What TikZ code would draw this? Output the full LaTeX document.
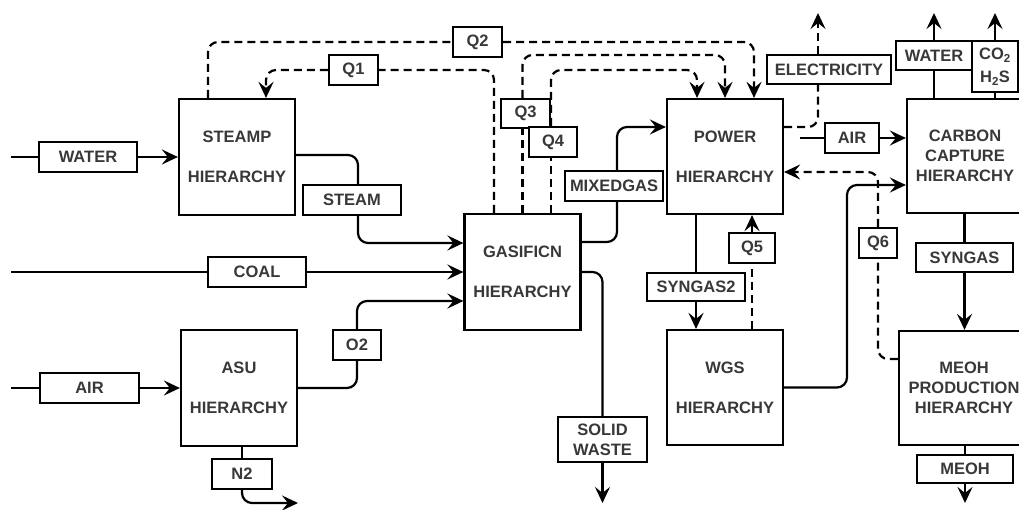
\documentclass[tikz,border=0pt]{standalone}
\usepackage{fontspec}
\setmainfont{Liberation Sans}
\usetikzlibrary{arrows.meta}
\begin{document}
\begin{tikzpicture}[x=1pt,y=-1pt,
  every node/.style={font=\fontsize{16.5}{20}\selectfont\bfseries, text=black!78, inner sep=0pt, align=center},
  unit/.style={draw, line width=2.2pt, minimum width=116pt, minimum height=116pt},
  tag/.style={draw, line width=2.2pt, fill=white, minimum height=30pt},
  flow/.style={line width=2.2pt, rounded corners=10pt},
  dflow/.style={flow, dash pattern=on 8pt off 5pt},
  tip/.style={-{Stealth[length=16pt,width=15pt,inset=6pt]}},
]
\clip (0,0) rectangle (1019,510);

% process units
\node[unit] (steamp) at (237,157) {STEAMP\\[20pt]HIERARCHY};
\node[unit] (gas) at (522.5,272) {GASIFICN\\[20pt]HIERARCHY};
\node[unit,minimum height=115pt] (power) at (725,156.5) {POWER\\[20pt]HIERARCHY};
\node[unit,minimum height=115pt] (wgs) at (725,387.5) {WGS\\[20pt]HIERARCHY};
\node[unit] (asu) at (239,388) {ASU\\[20pt]HIERARCHY};
\node[unit,minimum height=114pt] (cc) at (965,156) {CARBON\\CAPTURE\\HIERARCHY};
\node[unit,minimum width=130pt,minimum height=114pt] (meoh) at (964,388) {MEOH\\PRODUCTION\\HIERARCHY};

% stream tags
\node[tag,minimum width=98pt] (wateri) at (88,157) {WATER};
\node[tag,minimum width=98pt] (steam) at (352,200) {STEAM};
\node[tag,minimum width=98pt] (coal) at (257,272) {COAL};
\node[tag,minimum width=48pt] (o2) at (357,345) {O2};
\node[tag,minimum width=99pt] (airi) at (89.5,388) {AIR};
\node[tag,minimum width=60pt] (n2) at (242,474) {N2};
\node[tag,minimum width=49pt] (q1) at (353.5,70) {Q1};
\node[tag,minimum width=49pt] (q2) at (477.5,42) {Q2};
\node[tag,minimum width=49pt,minimum height=29pt] (q3) at (525.5,113.5) {Q3};
\node[tag,minimum width=48pt] (q4) at (553,142) {Q4};
\node[tag,minimum width=98pt] (mix) at (614,186) {MIXEDGAS};
\node[tag,minimum width=89pt,minimum height=45pt] (solid) at (602.5,439.5) {SOLID\\WASTE};
\node[tag,minimum width=98pt,minimum height=28pt] (syn2) at (696,287) {SYNGAS2};
\node[tag,minimum width=46pt] (q5) at (752,248) {Q5};
\node[tag,minimum width=124pt,minimum height=29pt] (elec) at (829,69.5) {ELECTRICITY};
\node[tag,minimum width=54pt] (airr) at (852,138) {AIR};
\node[tag,minimum width=76pt,minimum height=29pt] (waterr) at (934,55.5) {WATER};
\node[tag,minimum width=46pt,minimum height=51pt] (co2) at (995,66.5) {CO\textsubscript{2}\\[3pt]H\textsubscript{2}S};
\node[tag,minimum width=38pt] (q6) at (878,243) {Q6};
\node[tag,minimum width=97pt,minimum height=29pt] (syngas) at (964.5,257.5) {SYNGAS};
\node[tag,minimum width=96pt,minimum height=28pt] (meohl) at (965,469) {MEOH};

% free ends and routing levels
\coordinate (wsrc) at (11,157);
\coordinate (csrc) at (11,272);
\coordinate (asrc) at (11,388);
\coordinate (nout) at (298,503);
\coordinate (bot) at (0,503);
\coordinate (top) at (0,13);
\coordinate (ex) at (818,0);
\coordinate (airsrc) at (800,138);
\coordinate (wgsbend) at (847,0);
\coordinate (yB) at (0,55);
\coordinate (yC) at (0,70);
\coordinate (g1) at ([xshift=-28.5]gas.north);
\coordinate (g2) at (gas.north);
\coordinate (g3) at ([xshift=28.5]gas.north);
\coordinate (p1) at ([xshift=-28]power.north);
\coordinate (p2) at (power.north);
\coordinate (p3) at ([xshift=29]power.north);
\coordinate (s1) at ([xshift=-29]steamp.north);
\coordinate (s2) at ([xshift=29]steamp.north);
\coordinate (ccin) at ([yshift=-29]cc.west);

% feeds
\draw[flow] (wsrc) -- (wateri);
\draw[flow,tip] (wateri) -- (steamp);
\draw[flow] (csrc) -- (coal);
\draw[flow,tip] (coal) -- (gas);
\draw[flow] (asrc) -- (airi);
\draw[flow,tip] (airi) -- (asu);

% steam and oxygen to the gasifier
\draw[flow] ([yshift=2]steamp.east) -| ([xshift=6]steam.north);
\draw[flow,tip] ([xshift=6]steam.south) |- ([yshift=29]gas.west);
\draw[flow] (asu.east) -| (o2.south);
\draw[flow,tip] (o2.north) |- ([yshift=-29]gas.west);
\draw[flow] (asu.south -| n2.north) -- (n2.north);
\draw[flow,tip] (n2.south) |- (nout);

% gasifier products
\draw[flow] ([yshift=30]gas.east) -| ([xshift=3]mix.south);
\draw[flow,tip] ([xshift=3]mix.north) |- ([yshift=29.5]power.west);
\draw[flow] (gas.east) -| (solid.north);
\draw[flow,tip] (solid.south) -- (solid.south |- bot);

% power and shift
\draw[flow] (power.south -| syn2) -- (syn2);
\draw[flow,tip] (syn2) -- (wgs.north -| syn2);
\draw[dflow] (wgs.north -| q5) -- (q5);
\draw[dflow,tip] (q5) -- (power.south -| q5);
\draw[dflow] ([yshift=29.5]power.east) -| (elec.south -| ex);
\draw[dflow,tip] (elec.north -| ex) -- (ex |- top);

% carbon capture and methanol
\draw[flow] (airsrc) -- (airr);
\draw[flow,tip] (airr) -- (cc.west |- airr);
\draw[flow] (cc.north -| waterr) -- (waterr);
\draw[flow,tip] (waterr) -- (waterr |- top);
\draw[flow] (cc.north -| co2) -- (co2);
\draw[flow,tip] (co2) -- (co2 |- top);
\draw[flow,tip] (wgs.east) -| (wgsbend |- ccin) -- (ccin);
\draw[flow] (cc.south -| syngas) -- (syngas);
\draw[flow,tip] (syngas) -- (meoh.north -| syngas);
\draw[flow] (meoh.south -| meohl) -- (meohl);
\draw[flow,tip] (meohl) -- (meohl |- bot);
\draw[dflow] ([yshift=29]meoh.west) -| (q6.south);
\draw[dflow,tip] (q6.north) |- ([yshift=-15.5]power.east);

% heat duties
\draw[dflow] (g1) |- (q1);
\draw[dflow,tip] (q1) -| (s2);
\draw[dflow] (s1) |- (q2);
\draw[dflow,tip] (q2) -| (p3);
\draw[dflow] (g2) -- (g2 |- q3.south);
\draw[dflow,tip] (g2 |- q3.north) |- (p2 |- yB) -- (p2);
\draw[dflow] (g3) -- (g3 |- q4.south);
\draw[dflow,tip] (g3 |- q4.north) |- (p1 |- yC) -- (p1);
\end{tikzpicture}
\end{document}
